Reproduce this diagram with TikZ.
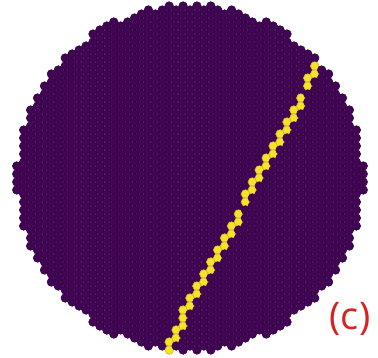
\documentclass[tikz,border=0pt]{standalone}
\usepackage{fontspec}
\setsansfont{Open Sans}
\usepackage{tikz}
\definecolor{vpurple}{RGB}{66,4,84}
\definecolor{vpurpleedge}{RGB}{48,0,62}
\definecolor{vyellow}{RGB}{246,226,44}
\definecolor{vyellowedge}{RGB}{200,176,24}
\definecolor{labelred}{RGB}{214,34,34}

\begin{document}
\begin{tikzpicture}[x=1pt, y=-1pt,
        grain/.style={fill=vpurple, draw=vpurpleedge, line width=0.5pt},
        defect/.style={fill=vyellow, draw=vyellowedge, line width=0.5pt}]
        \useasboundingbox (0,0) rectangle (378,357);
        % hexagonal packing inside the disk
        \foreach \i in {-26,...,26}{
            \foreach \j in {-23,...,23}{
                \pgfmathsetmacro{\px}{190+\i*6.93}
                \pgfmathsetmacro{\py}{178+\j*8+mod(abs(\i),2)*4}
                \pgfmathtruncatemacro{\inside}{(((\px-190)/10)^2+((\py-178)/10)^2)<302}
                \pgfmathtruncatemacro{\online}{abs((\px-167)*0.8816+(\py-348)*0.4723)<3.8}
                \ifnum\inside=1
                    \ifnum\online=1
                        \path[defect] (\px,\py) circle (4.3);
                    \else
                        \path[grain] (\px,\py) circle (4.3);
                    \fi
                \fi
            }
        }
        \node[text=labelred, font=\fontsize{38}{38}\selectfont\sffamily] (label) at (350,319) {(c)};
    \end{tikzpicture}
\end{document}
